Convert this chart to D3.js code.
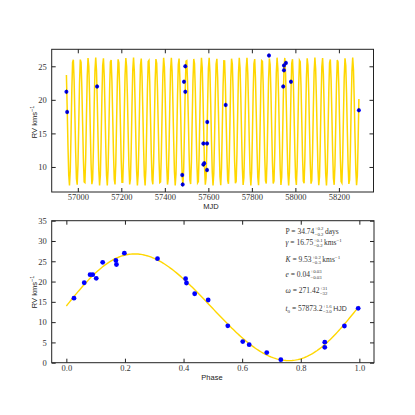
<!DOCTYPE html>
<meta charset="utf-8">
<html>
<style>
body { margin: 0; background: #fff; }
.tick text { font-family: "Liberation Serif", serif; font-size: 8.5px; fill: #333; }
.alabel { font-family: "Liberation Sans", sans-serif; font-size: 7.5px; fill: #222; }
.legend text { font-family: "Liberation Serif", serif; font-size: 7.5px; fill: #333; }
</style>
<body>
<script src="https://cdn.jsdelivr.net/npm/d3@7"></script>
<script>

// observed epochs (MJD) and radial velocities, top panel
var mjd = [56947.6, 56951, 57088.6, 57480, 57482, 57488, 57494, 57494, 57577, 57577, 57581,
           57594, 57594, 57595, 57679.7, 57878.6, 57944, 57947.5, 57947.5, 57956.6, 57979.6, 58291.8];
var rv  = [21.2, 18.2, 22.0, 8.8, 7.4, 22.7, 25.0, 21.2, 13.5, 10.35, 10.55,
           13.5, 9.55, 16.7, 19.25, 26.6, 22.0, 24.4, 25.1, 25.5, 22.7, 18.45];

// phase folded points, bottom panel
var phase   = [0.026, 0.061, 0.081, 0.090, 0.102, 0.124, 0.169, 0.171, 0.198, 0.311, 0.407, 0.410,
               0.438, 0.484, 0.551, 0.602, 0.624, 0.684, 0.732, 0.882, 0.882, 0.949, 0.996];
var phaseRv = [15.9, 19.7, 21.7, 21.7, 20.8, 24.75, 25.2, 24.2, 27.0, 25.65, 20.7, 19.65,
               17.0, 15.45, 9.1, 5.2, 4.45, 2.5, 0.75, 5.05, 3.8, 9.05, 13.4];

// orbit fit (P, gamma, K, e, omega, t0)
var fitP = 34.74, fitGamma = 16.75, fitK = 9.53, fitE = 0.04, fitOmega = 271.42, fitT0 = 57873.2;
// offset/amplitude of the curve drawn in the phase panel
var phGamma = 13.65, phK = 13.15;

var topXTicks = [57000, 57200, 57400, 57600, 57800, 58000, 58200];
var topYTicks = [10, 15, 20, 25];
var botXTicks = [0, 0.2, 0.4, 0.6, 0.8, 1.0];
var botYTicks = [0, 5, 10, 15, 20, 25, 30, 35];

var legendRows = [
  {sym: "P", it: false, val: "34.74", up: "+0.2", lo: "\u22120.2", unit: "days"},
  {sym: "\u03b3", it: true, val: "16.75", up: "+0.1", lo: "\u22120.2", unit: "kms", pow: true},
  {sym: "K", it: true, val: "9.53", up: "+0.2", lo: "\u22120.3", unit: "kms", pow: true},
  {sym: "e", it: true, val: "0.04", up: "+0.03", lo: "\u22120.03", unit: ""},
  {sym: "\u03c9", it: true, val: "271.42", up: "+31", lo: "\u221232", unit: ""},
  {sym: "t", sub: "0", it: true, val: "57873.2", up: "+1.6", lo: "\u22123.0", unit: "HJD", sans: true}
];

var width = 415, height = 415;
var svg = d3.select("body").append("svg")
    .attr("width", width).attr("height", height);

// keplerian radial velocity
function kepRv(t, gamma, K) {
  var M = 2 * Math.PI * (t - fitT0) / fitP;
  var E = M;
  for (var i = 0; i < 30; i++) E = E - (E - fitE * Math.sin(E) - M) / (1 - fitE * Math.cos(E));
  var nu = 2 * Math.atan2(Math.sqrt(1 + fitE) * Math.sin(E / 2), Math.sqrt(1 - fitE) * Math.cos(E / 2));
  var w = fitOmega * Math.PI / 180;
  return gamma + K * (Math.cos(nu + w) + fitE * Math.cos(w));
}

function drawFrame(g, x, y, xt, yt, xfmt, yfmt) {
  var x0 = x.range()[0], x1 = x.range()[1], y0 = y.range()[0], y1 = y.range()[1];
  g.append("g").attr("transform", "translate(0," + y0 + ")")
    .call(d3.axisBottom(x).tickValues(xt).tickFormat(xfmt).tickSizeInner(-4).tickSizeOuter(0).tickPadding(2))
    .call(s => s.select(".domain").remove());
  g.append("g").attr("transform", "translate(0," + y1 + ")")
    .call(d3.axisTop(x).tickValues(xt).tickFormat("").tickSizeInner(-4).tickSizeOuter(0))
    .call(s => s.select(".domain").remove());
  g.append("g").attr("transform", "translate(" + x0 + ",0)")
    .call(d3.axisLeft(y).tickValues(yt).tickFormat(yfmt).tickSizeInner(-4).tickSizeOuter(0).tickPadding(5))
    .call(s => s.select(".domain").remove());
  g.append("g").attr("transform", "translate(" + x1 + ",0)")
    .call(d3.axisRight(y).tickValues(yt).tickFormat("").tickSizeInner(-4).tickSizeOuter(0))
    .call(s => s.select(".domain").remove());
  g.selectAll(".tick line").attr("stroke", "#222");
  g.append("rect").attr("x", x0).attr("y", y1).attr("width", x1 - x0).attr("height", y0 - y1)
    .attr("fill", "none").attr("stroke", "#222").attr("stroke-width", 1);
}

function rvLabel(cx, cy) {
  var t = svg.append("text").attr("class", "alabel")
    .attr("transform", "translate(" + cx + "," + cy + ") rotate(-90)")
    .attr("text-anchor", "middle");
  t.append("tspan").text("RV kms");
  t.append("tspan").attr("dy", -3).style("font-size", "5.5px").text("\u22121");
}

// ---------- top panel ----------
var xTop = d3.scaleLinear().domain([56880, 58359]).range([51.7, 373.5]);
var yTop = d3.scaleLinear().domain([6.27, 27.53]).range([192, 49.3]);
var gTop = svg.append("g");

var tMin = d3.min(mjd), tMax = d3.max(mjd), nSamp = 380;
var model = d3.range(nSamp).map(function(i) {
  var t = tMin + (tMax - tMin) * i / (nSamp - 1);
  return [t, kepRv(t, fitGamma, fitK)];
});
gTop.append("path").datum(model)
  .attr("d", d3.line().x(d => xTop(d[0])).y(d => yTop(d[1])))
  .attr("fill", "none").attr("stroke", "#FFD700").attr("stroke-width", 1.5);

var pts = gTop.selectAll(".pt").data(d3.range(mjd.length)).enter().append("g");
pts.append("circle").attr("cx", i => xTop(mjd[i])).attr("cy", i => yTop(rv[i]))
  .attr("r", 2).attr("fill", "#0000ff");
pts.append("line").attr("x1", i => xTop(mjd[i])).attr("x2", i => xTop(mjd[i]))
  .attr("y1", i => yTop(rv[i] + 0.35)).attr("y2", i => yTop(rv[i] - 0.35))
  .attr("stroke", "#000").attr("stroke-opacity", 0.6).attr("stroke-width", 0.8);

drawFrame(gTop, xTop, yTop, topXTicks, topYTicks, d3.format("d"), d3.format("d"));
svg.append("text").attr("class", "alabel").attr("x", 211).attr("y", 209)
  .attr("text-anchor", "middle").text("MJD");
rvLabel(37, 122);

// ---------- bottom panel ----------
var xBot = d3.scaleLinear().domain([-0.05, 1.05]).range([51.7, 374]);
var yBot = d3.scaleLinear().domain([0, 35]).range([362.7, 220.7]);
var gBot = svg.append("g");

var phModel = d3.range(201).map(function(i) {
  var ph = i / 200;
  return [ph, kepRv(fitT0 + ph * fitP, phGamma, phK)];
});
gBot.append("path").datum(phModel)
  .attr("d", d3.line().x(d => xBot(d[0])).y(d => yBot(d[1])))
  .attr("fill", "none").attr("stroke", "#FFD700").attr("stroke-width", 1.4);

gBot.selectAll(".pp").data(d3.range(phase.length)).enter().append("circle")
  .attr("cx", i => xBot(phase[i])).attr("cy", i => yBot(phaseRv[i]))
  .attr("r", 2.4).attr("fill", "#0000ff");

drawFrame(gBot, xBot, yBot, botXTicks, botYTicks, d3.format(".1f"), d3.format("d"));
svg.append("text").attr("class", "alabel").attr("x", 212).attr("y", 380)
  .attr("text-anchor", "middle").text("Phase");
rvLabel(37, 292);

// ---------- fit parameters ----------
var leg = svg.append("g").attr("class", "legend");
var rowY = [233.5, 245, 262, 276.5, 293, 311];
legendRows.forEach(function(r, k) {
  var lx = 285.5, ly = rowY[k];
  var t = leg.append("text").attr("x", lx).attr("y", ly);
  t.append("tspan").style("font-style", r.it ? "italic" : "normal").text(r.sym);
  if (r.sub) {
    t.append("tspan").attr("dy", 1.8).style("font-size", "5px").text(r.sub);
    t.append("tspan").attr("dy", -1.8).text(" = " + r.val);
  } else {
    t.append("tspan").text(" = " + r.val);
  }
  var w = t.node().getComputedTextLength();
  var sx = lx + w + 0.5;
  var su = leg.append("text").attr("x", sx).attr("y", ly - 3.2).style("font-size", "4.8px").text(r.up);
  var sl = leg.append("text").attr("x", sx).attr("y", ly + 2.2).style("font-size", "4.8px").text(r.lo);
  var w2 = Math.max(su.node().getComputedTextLength(), sl.node().getComputedTextLength());
  if (r.unit) {
    var u = leg.append("text").attr("x", sx + w2 + 1.5).attr("y", ly);
    if (r.sans) u.style("font-family", "'Liberation Sans', sans-serif").style("font-size", "7px");
    u.append("tspan").text(r.unit);
    if (r.pow) u.append("tspan").attr("dy", -3).style("font-size", "5px").text("\u22121");
  }
});

</script>
</body>
</html>
